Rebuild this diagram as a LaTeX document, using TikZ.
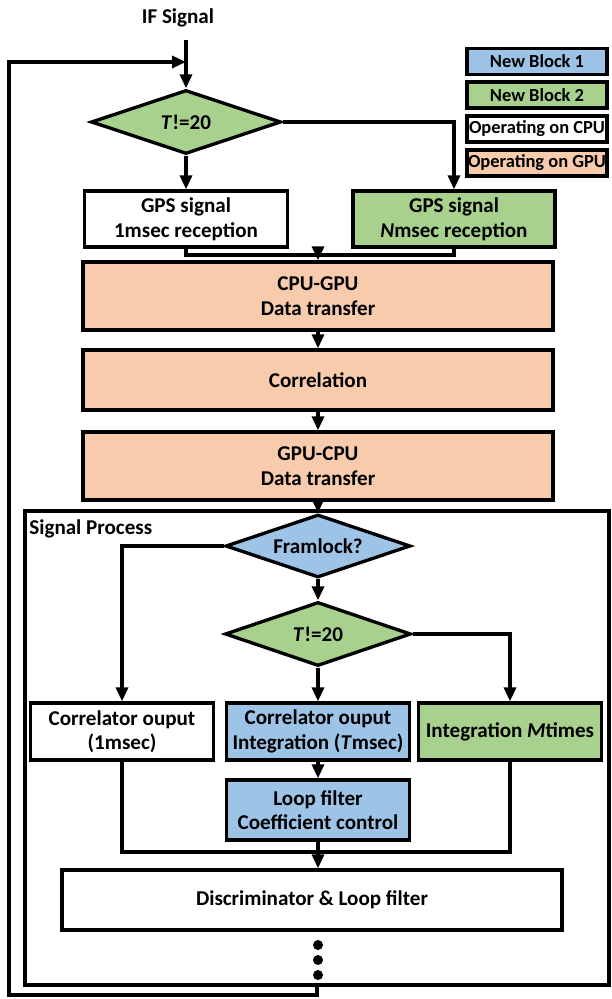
\documentclass[tikz,border=0pt]{standalone}
\usepackage{fontspec}
\setmainfont{Carlito}
\usetikzlibrary{arrows.meta,shapes.geometric}

\definecolor{newone}{HTML}{9DC3E6}
\definecolor{newtwo}{HTML}{A9D18E}
\definecolor{ongpu}{HTML}{F8CBAD}

\tikzset{
	blk/.style={draw, line width=1.9pt, align=center, inner sep=1pt, font=\bfseries\fontsize{12}{14}\selectfont},
	dec/.style={diamond, draw, line width=1.9pt, inner sep=0pt, aspect=3, font=\bfseries\fontsize{12}{14}\selectfont},
	key/.style={draw, line width=1.9pt, inner sep=0pt, minimum width=2.8cm, minimum height=0.52cm, font=\bfseries\fontsize{10.5}{12}\selectfont},
	wire/.style={line width=1.9pt},
	flow/.style={wire, -{Triangle[length=0.28cm,width=0.24cm]}},
}

\begin{document}
\begin{tikzpicture}[x=0.02cm, y=-0.02cm]
		\useasboundingbox (0,0) rectangle (611,999);
		
		%%%%% legend %%%%%
		\node[key, fill=newone] (keyone) at (537,61.5) {New Block 1};
		\node[key, fill=newtwo] (keytwo) at (537,95) {New Block 2};
		\node[key, fill=white] (keycpu) at (537,129) {Operating on CPU};
		\node[key, fill=ongpu] (keygpu) at (537,163) {Operating on GPU};
		
		%%%%% reception and correlation %%%%%
		\node[font=\bfseries\fontsize{12}{14}\selectfont] (ifsig) at (178,18) {IF Signal};
		\coordinate (ifin) at (186,40);
		\coordinate (merge) at (186,62);
		
		\node[dec, fill=newtwo, minimum width=3.8cm, minimum height=1.28cm] (tsel) at (186,122) {\textit{T}!=20};
		\node[blk, minimum width=4.06cm, minimum height=1.12cm] (gpsone) at (186,219) {GPS signal\\1msec reception};
		\node[blk, fill=newtwo, minimum width=4.04cm, minimum height=1.12cm] (gpsn) at (454,219) {GPS signal\\\textit{N}msec reception};
		
		\node[blk, fill=ongpu, minimum width=9.4cm, minimum height=1.36cm] (cpugpu) at (318,296) {CPU-GPU\\Data transfer};
		\node[blk, fill=ongpu, minimum width=9.4cm, minimum height=1.2cm] (corr) at (318,380) {Correlation};
		\node[blk, fill=ongpu, minimum width=9.4cm, minimum height=1.36cm] (gpucpu) at (318,466) {GPU-CPU\\Data transfer};
		
		\draw[flow] (ifin) -- (tsel.north);
		\draw[flow] (tsel.south) -- (gpsone.north);
		\draw[flow] (tsel.east) -| (gpsn.north);
		
		\coordinate (join1) at (318,255);
		\draw[wire] (gpsone.south) |- (join1) -| (gpsn.south);
		\draw[flow] (join1) -- (cpugpu.north);
		\draw[flow] (cpugpu) -- (corr);
		\draw[flow] (corr) -- (gpucpu);
		
		%%%%% signal process %%%%%
		\node[draw, line width=1.9pt, inner sep=0pt, minimum width=11.68cm, minimum height=9.48cm] (spbox) at (317,748) {};
		\node[anchor=north west, inner sep=0pt, font=\bfseries\fontsize{12}{14}\selectfont] (splabel) at (29,519) {Signal Process};
		
		\node[dec, fill=newone, minimum width=3.7cm, minimum height=1.26cm] (framlock) at (318,546) {Framlock?};
		\node[dec, fill=newtwo, minimum width=3.72cm, minimum height=1.28cm] (tsel2) at (318,634) {\textit{T}!=20};
		
		\node[blk, minimum width=3.66cm, minimum height=1.14cm] (coone) at (122,731.5) {Correlator ouput\\(1msec)};
		\node[blk, fill=newone, minimum width=3.66cm, minimum height=1.14cm] (cot) at (318,731.5) {Correlator ouput\\Integration (\textit{T}msec)};
		\node[blk, fill=newtwo, minimum width=3.66cm, minimum height=1.14cm] (intm) at (510,731.5) {Integration \textit{M}times};
		\node[blk, fill=newone, minimum width=3.66cm, minimum height=1.2cm] (loopctl) at (318,810) {Loop filter\\Coefficient control};
		\node[blk, minimum width=10cm, minimum height=1.2cm] (disc) at (312,900) {Discriminator \& Loop filter};
		
		\draw[flow] (gpucpu) -- (framlock);
		\draw[flow] (framlock.west) -| (coone.north);
		\draw[flow] (framlock) -- (tsel2);
		\draw[flow] (tsel2) -- (cot);
		\draw[flow] (tsel2.east) -| (intm.north);
		\draw[flow] (cot) -- (loopctl);
		
		\coordinate (join2) at (318,852);
		\draw[wire] (coone.south) |- (join2) -| (intm.south);
		\draw[wire] (loopctl) -- (join2);
		\draw[flow] (join2) -- (join2 |- disc.north);
		
		\foreach \y in {945,960,975}
			\fill (318,\y) circle (0.1cm);
		
		%%%%% feedback to the input %%%%%
		\coordinate (fbturn) at (9,995);
		\draw[flow] (spbox.south) |- (fbturn) |- (merge);
		
\end{tikzpicture}
\end{document}
